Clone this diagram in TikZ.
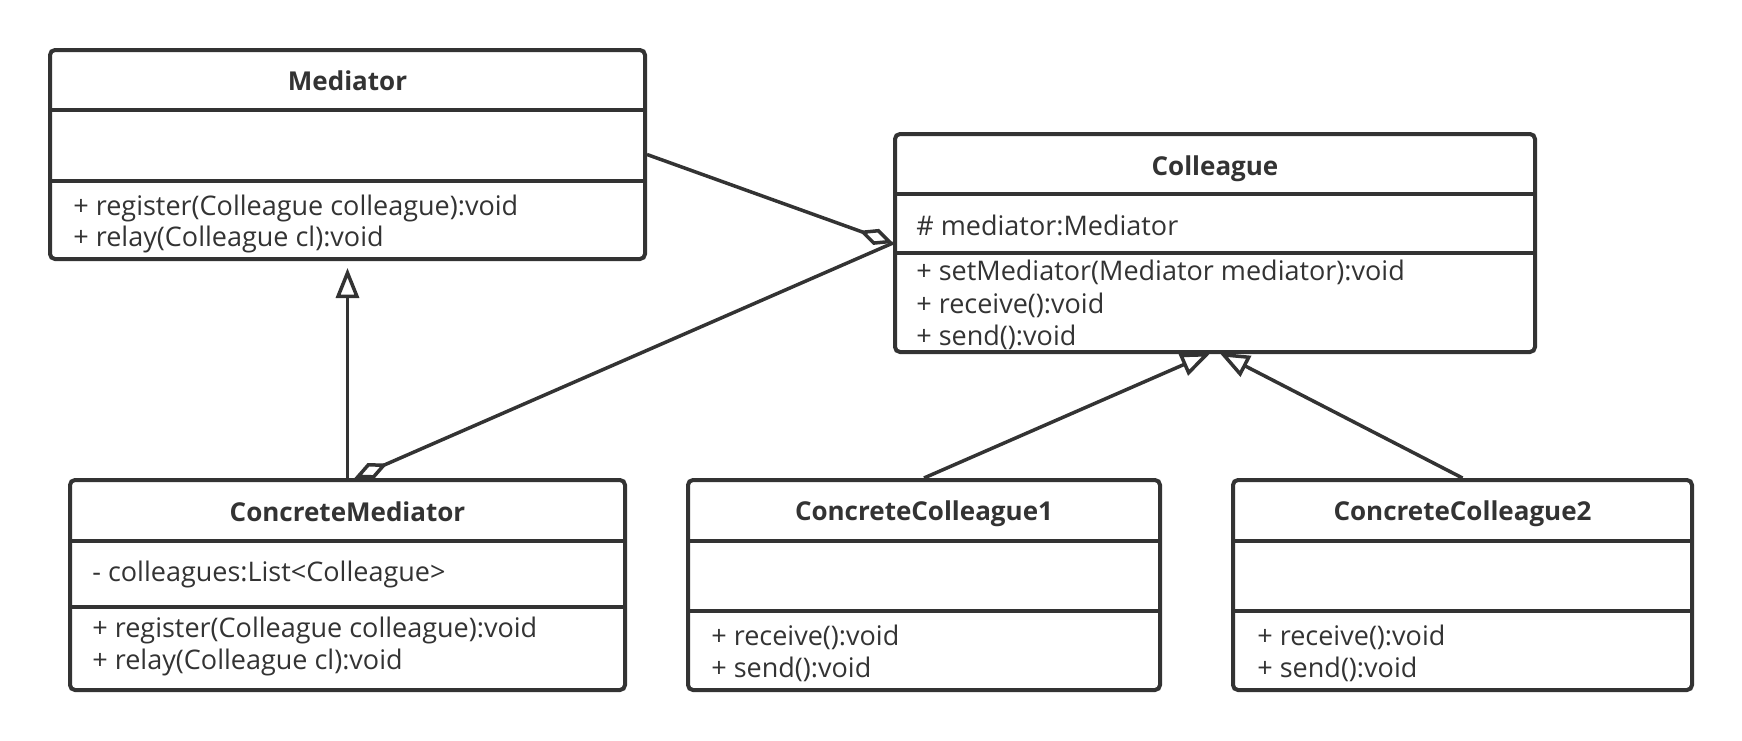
\documentclass[tikz,border=0pt]{standalone}
\usepackage{fontspec}
\setmainfont{Open Sans}
\usetikzlibrary{arrows.meta, positioning}
\definecolor{umlgray}{HTML}{333333}
\tikzset{
x=0.5pt, y=-0.5pt, % one unit is one pixel of the drawing, y runs down
every node/.style={text=umlgray, font=\fontsize{13.5}{16}\selectfont},
classbox/.style={draw=umlgray, line width=2pt, rounded corners=2.5pt, inner sep=0pt}, % outer frame of a class
classname/.style={font=\fontsize{13}{16}\selectfont\bfseries}, % bold class title
member/.style={anchor=west, inner sep=0pt, text height=0.75em, text depth=0.25em},
divider/.style={draw=umlgray, line width=2pt},
inherit/.style={-{Triangle[open, length=15pt, width=11.5pt]}, draw=umlgray, line width=1.75pt}, % generalization
aggregate/.style={-{Diamond[open, length=18pt, width=8.5pt]}, draw=umlgray, line width=1.75pt}, % aggregation
}
\begin{document}
\begin{tikzpicture}
  \fill[white] (0,0) rectangle (1742,740);
  \useasboundingbox (0,0) rectangle (1742,740);

  % classes
  \node[classbox, minimum width=297.5pt, minimum height=104.5pt] (med) at (347.5,154.5) {};
  \node[classbox, minimum width=320pt, minimum height=109pt] (colleague) at (1215,243) {};
  \node[classbox, minimum width=277.5pt, minimum height=105pt] (cmed) at (347.5,585) {};
  \node[classbox, minimum width=236pt, minimum height=105pt] (cc1) at (924,585) {};
  \node[classbox, minimum width=229.5pt, minimum height=105pt] (cc2) at (1462.5,585) {};

  % compartments
  \draw[divider] (med.west |- 0,110) -- (med.east |- 0,110)
                 (med.west |- 0,181) -- (med.east |- 0,181);
  \draw[divider] (colleague.west |- 0,194) -- (colleague.east |- 0,194)
                 (colleague.west |- 0,253) -- (colleague.east |- 0,253);
  \draw[divider] (cmed.west |- 0,541) -- (cmed.east |- 0,541)
                 (cmed.west |- 0,607) -- (cmed.east |- 0,607);
  \draw[divider] (cc1.west |- 0,541) -- (cc1.east |- 0,541)
                 (cc1.west |- 0,611) -- (cc1.east |- 0,611);
  \draw[divider] (cc2.west |- 0,541) -- (cc2.east |- 0,541)
                 (cc2.west |- 0,611) -- (cc2.east |- 0,611);

  % texts
  \node[classname] (medname) at (347.5,81) {Mediator};
  \node[member] (medop1) at (73,210) {+ register(Colleague colleague):void};
  \node[member] (medop2) at (73,241) {+ relay(Colleague cl):void};

  \node[classname] (colname) at (1215,169) {Colleague};
  \node[member] (colattr) at (916,230) {\# mediator:Mediator};
  \node[member] (colop1) at (916,275.5) {+ setMediator(Mediator mediator):void};
  \node[member] (colop2) at (916,308) {+ receive():void};
  \node[member] (colop3) at (916,340) {+ send():void};

  \node[classname] (cmedname) at (347.5,512) {ConcreteMediator};
  \node[member] (cmedattr) at (92,576.5) {- colleagues:List<Colleague>};
  \node[member] (cmedop1) at (92,632) {+ register(Colleague colleague):void};
  \node[member] (cmedop2) at (92,664.5) {+ relay(Colleague cl):void};

  \node[classname] (cc1name) at (924,514) {ConcreteColleague1};
  \node[member] (cc1op1) at (711,640) {+ receive():void};
  \node[member] (cc1op2) at (711,672) {+ send():void};

  \node[classname] (cc2name) at (1462.5,514) {ConcreteColleague2};
  \node[member] (cc2op1) at (1257,640) {+ receive():void};
  \node[member] (cc2op2) at (1257,672) {+ send():void};

  % relations
  \draw[aggregate] (med.east) -- (colleague.west);
  \draw[aggregate] (colleague.west) -- ([xshift=3.5pt]cmed.north);
  \draw[inherit, shorten >=3.5pt] (cmed.north) -- (med.south);
  \draw[inherit, shorten >=-1.5pt] (cc1.north) -- ([xshift=-3.5pt]colleague.south);
  \draw[inherit, shorten >=-1.5pt] (cc2.north) -- ([xshift=3.5pt]colleague.south);
\end{tikzpicture}
\end{document}
